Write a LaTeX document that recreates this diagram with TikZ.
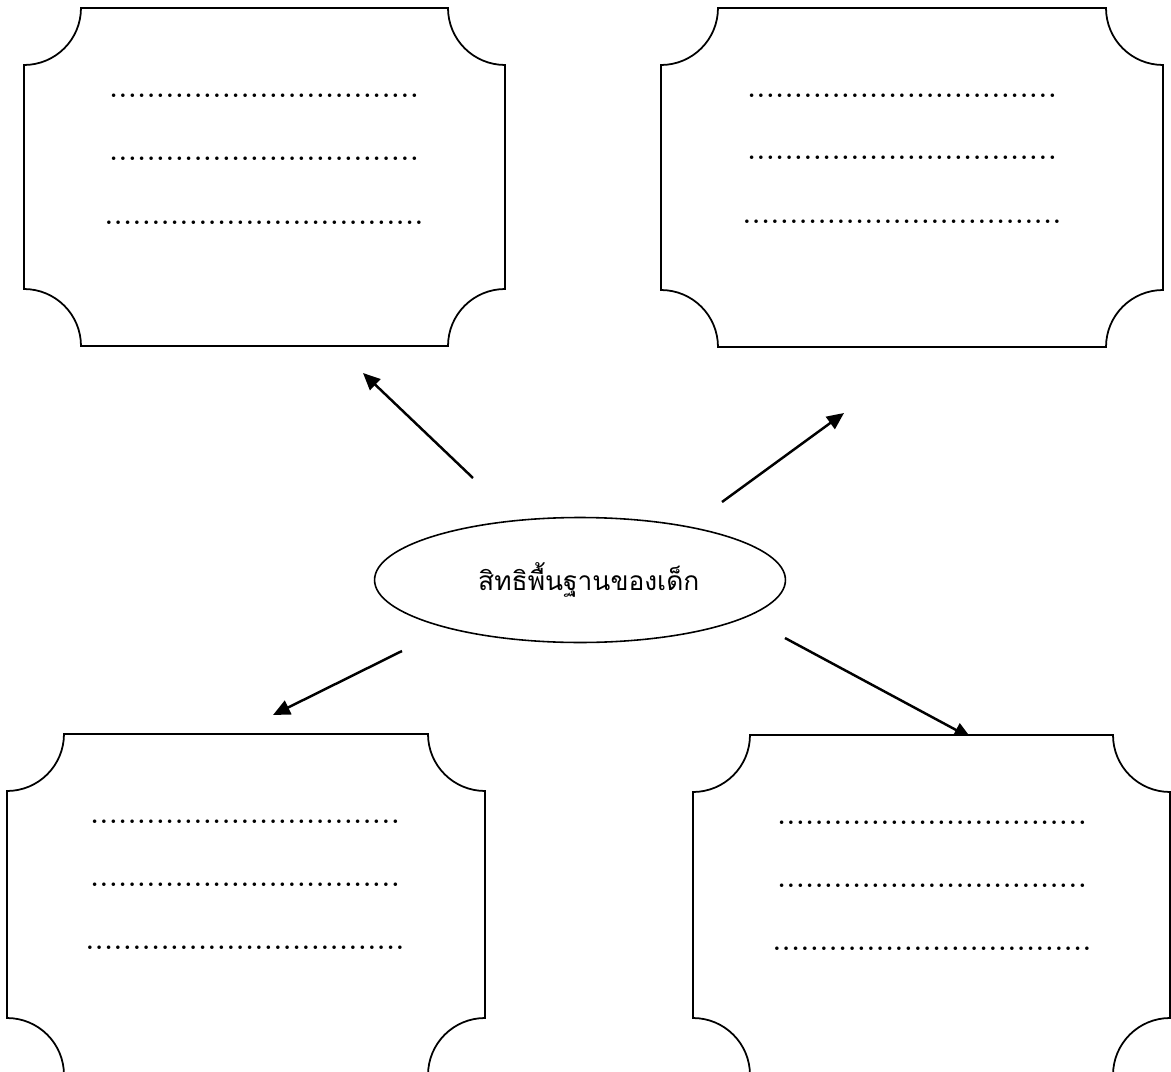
\documentclass[tikz,border=0pt]{standalone}
\usepackage{fontspec}
\usetikzlibrary{arrows.meta,shapes.geometric}
\newfontfamily\thaifont[Script=Thai]{Loma}
\def\drawplaque{\draw[line width=1pt,fill=white]}
\def\drawarrow{\draw[line width=1.4pt,-{Triangle[length=3.4mm,width=3mm]}]}
\def\dotnode{\node[inner sep=0pt,font=\fontsize{14}{14}\selectfont\bfseries]}
\def\plr{1.14cm}
\newcommand\fillin[1]{\foreach \k in {1,...,#1}{\hbox to 5.35pt{\hss.\hss}}}
% plaque: name, left, top, right, bottom (pixel units)
\newcommand\plaque[5]{%
  \drawplaque (#2,#3+57) arc[start angle=-90,end angle=0,radius=\plr]
    -- (#4-57,#3) arc[start angle=180,end angle=270,radius=\plr]
    -- (#4,#5-57) arc[start angle=90,end angle=180,radius=\plr]
    -- (#2+57,#5) arc[start angle=0,end angle=90,radius=\plr] -- cycle;
  \coordinate (#1) at ({(#2+#4)/2},{(#3+#5)/2});}

\begin{document}
\begin{tikzpicture}[x=0.02cm,y=-0.02cm]
\useasboundingbox (0,0) rectangle (1171,1072);
\node[ellipse,draw,line width=0.9pt,minimum width=8.22cm,minimum height=2.5cm,
  font=\thaifont\fontsize{15}{17}\selectfont] (rights) at (580,580) {\hspace{10pt}สิทธิพื้นฐานของเด็ก};
% arrow ends
\coordinate (tlfrom) at (473,478);
\coordinate (tlto) at (363,373);
\coordinate (trfrom) at (722,502);
\coordinate (trto) at (844,413);
\coordinate (blfrom) at (402,651);
\coordinate (blto) at (273,715);
\coordinate (brfrom) at (785,638);
\coordinate (brto) at (971,738);
\drawarrow (tlfrom) -- (tlto);
\drawarrow (trfrom) -- (trto);
\drawarrow (blfrom) -- (blto);
\drawarrow (brfrom) -- (brto);
% boxes
\plaque{tl}{24}{8}{505}{346}
\plaque{tr}{661}{8}{1163}{347}
\plaque{bl}{7}{734}{485}{1075}
\plaque{br}{693}{735}{1170}{1075}
% blank lines
\dotnode (tl1) at (264,96) {\fillin{33}};
\dotnode (tl2) at (264,159) {\fillin{33}};
\dotnode (tl3) at (264,223) {\fillin{34}};
\dotnode (tr1) at (902,96) {\fillin{33}};
\dotnode (tr2) at (902,158) {\fillin{33}};
\dotnode (tr3) at (902,222) {\fillin{34}};
\dotnode (bl1) at (245,822) {\fillin{33}};
\dotnode (bl2) at (245,885) {\fillin{33}};
\dotnode (bl3) at (245,948) {\fillin{34}};
\dotnode (br1) at (932,823) {\fillin{33}};
\dotnode (br2) at (932,886) {\fillin{33}};
\dotnode (br3) at (932,949) {\fillin{34}};
\end{tikzpicture}
\end{document}
